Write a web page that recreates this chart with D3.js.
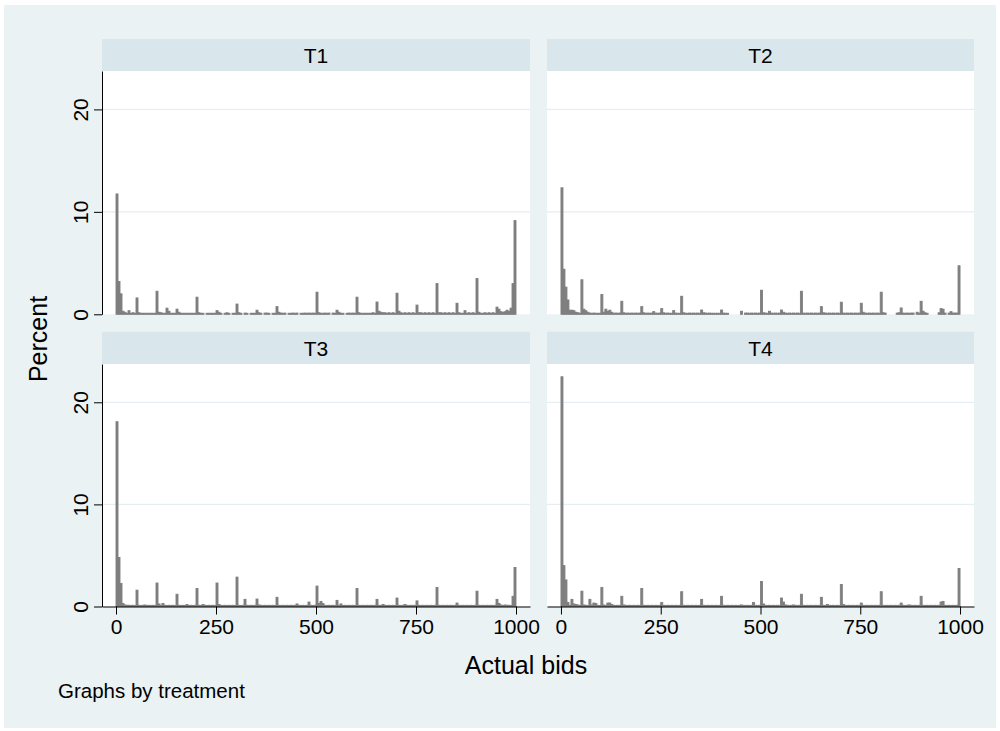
<!DOCTYPE html>
<html>
<head>
<meta charset="utf-8">
<script src="https://cdn.jsdelivr.net/npm/d3@7"></script>
<style>
  body { margin: 0; background: #ffffff; }
  text { font-family: "Liberation Sans", Arial, sans-serif; fill: #000; }
</style>
</head>
<body>
<div id="chart"></div>
<script>
// panels, ticks and bin width of the histogram
var treatments = ["T1", "T2", "T3", "T4"];
var x_ticks = [0, 250, 500, 750, 1000];
var y_ticks = [0, 10, 20];
var bin_width = 5;   // each value below is one bin of 5 bids, from 0 to 995

// percent per bin, one row = 100 bids
var pct_T1 = [
  11.75,3.2,2.0,0.3,0.2,0.1,0.35,0.1,0.15,0.1, 1.6,0.15,0.1,0.1,0.1,0.1,0.1,0.1,0.1,0.1,
  2.25,0.2,0.15,0.1,0.1,0.6,0.3,0.1,0.1,0.1, 0.5,0.2,0.1,0.1,0.1,0.1,0.1,0.1,0.1,0.1,
  1.67,0.15,0.1,0.1,0,0.1,0.1,0.1,0.1,0.1, 0.36,0.2,0.1,0,0.1,0.15,0.1,0,0.1,0.1,
  1.0,0.15,0.1,0,0.12,0.1,0,0.1,0.1,0.1, 0.4,0.15,0.1,0,0.12,0.12,0.1,0,0.1,0.1,
  0.75,0.2,0.12,0.1,0.12,0,0.1,0.1,0.12,0.1, 0.12,0,0.1,0.1,0.12,0.1,0.12,0.1,0.12,0.1,
  2.16,0.15,0.1,0.1,0.12,0.1,0.12,0,0.12,0.1, 0.4,0.2,0.1,0.1,0,0.1,0.12,0.1,0.12,0.1,
  1.67,0.15,0.1,0.1,0.1,0.1,0.1,0.1,0.15,0.1, 1.2,0.3,0.2,0.15,0.15,0.1,0.15,0.1,0.15,0.1,
  2.06,0.3,0.15,0.1,0.15,0.1,0.15,0.1,0.15,0.1, 0.9,0.15,0.15,0.1,0.15,0.1,0.15,0.1,0.15,0.1,
  3.0,0.15,0.15,0.1,0.15,0.1,0.15,0.1,0.15,0.1, 1.08,0.15,0.1,0.1,0.35,0.1,0.15,0.1,0.15,0.1,
  3.5,0.2,0.1,0.1,0.15,0.1,0.15,0.1,0.15,0.1, 0.7,0.5,0.25,0.2,0.25,0.4,0.3,0.6,3.0,9.15
];
var pct_T2 = [
  12.35,4.4,2.65,1.4,0.4,0.4,0.35,0.2,0.15,0.1, 3.37,0.5,0.35,0.2,0.12,0.1,0.12,0.1,0.1,0.1,
  1.93,0.2,0.5,0.3,0.4,0.2,0.1,0.12,0.1,0.12, 1.27,0.15,0.1,0.12,0.1,0.12,0.1,0.12,0.1,0.12,
  0.75,0.15,0.1,0.12,0.1,0.12,0.26,0.12,0.1,0.12, 0.56,0.15,0.1,0.12,0.1,0.1,0.36,0.12,0.1,0.1,
  1.76,0.15,0.1,0.1,0.12,0.1,0.12,0.1,0.12,0.1, 0.42,0.15,0.12,0.1,0.12,0.1,0.1,0.1,0.1,0.1,
  0.42,0.12,0.1,0.1,0,0,0,0,0,0, 0.3,0,0.12,0.12,0.1,0.12,0.1,0.12,0.1,0.12,
  2.35,0.15,0.12,0.1,0.3,0.12,0.1,0.12,0.1,0.12, 0.42,0.2,0.12,0.1,0.12,0.1,0.12,0.1,0.12,0.1,
  2.25,0.12,0.1,0.12,0.1,0.12,0.1,0.12,0.1,0.12, 0.75,0.15,0.12,0.1,0.12,0.1,0.12,0.1,0.12,0.1,
  1.18,0.12,0.1,0.12,0.1,0.12,0.1,0.12,0.1,0.12, 1.08,0.2,0.12,0.1,0.12,0.1,0.12,0.1,0.12,0.1,
  2.16,0.15,0.12,0,0,0,0,0,0.12,0.15, 0.62,0.12,0.1,0.12,0.1,0.12,0.12,0,0.2,0.12,
  1.27,0.3,0.15,0.1,0,0,0,0,0,0.15, 0.56,0.5,0.12,0,0.12,0.26,0.12,0.12,0.12,4.74
];
var pct_T3 = [
  18.1,4.8,2.26,0.3,0.15,0.12,0.12,0.1,0.12,0.1, 1.6,0.12,0.1,0.12,0.15,0.1,0.12,0.1,0.12,0.1,
  2.3,0.25,0.12,0.3,0.12,0.1,0.12,0.1,0.12,0.1, 1.2,0.12,0.1,0.12,0.1,0.2,0.1,0.12,0.1,0.12,
  1.77,0.12,0.1,0.2,0.12,0.1,0.12,0.1,0.12,0.1, 2.3,0.2,0.12,0.1,0.12,0.1,0.12,0.1,0.12,0.1,
  2.88,0.12,0.1,0.12,0.7,0.12,0.1,0.12,0.1,0.12, 0.73,0.15,0.12,0.1,0.12,0.1,0.12,0.1,0.12,0.1,
  0.9,0.12,0.1,0.12,0.1,0.12,0.1,0.12,0.1,0.12, 0.25,0.12,0.1,0.12,0.1,0.12,0.44,0.12,0.1,0.12,
  2.0,0.3,0.5,0.3,0.12,0.1,0.12,0.1,0.12,0.1, 0.6,0.12,0.25,0.1,0.12,0.1,0.12,0.1,0.12,0.1,
  1.77,0.12,0.1,0.12,0.1,0.12,0.1,0.12,0.1,0.12, 0.7,0.12,0.1,0.2,0.12,0.1,0.12,0.1,0.12,0.1,
  0.83,0.12,0.1,0.12,0.2,0.12,0.1,0.12,0.1,0.12, 0.55,0.12,0.1,0.12,0.1,0.12,0.1,0.12,0.1,0.12,
  1.87,0.12,0.1,0.12,0.1,0.12,0.1,0.12,0.1,0.12, 0.34,0.12,0.1,0.12,0.1,0.12,0.1,0.12,0.1,0.12,
  1.5,0.12,0.1,0.12,0.1,0.12,0.1,0.12,0.1,0.12, 0.7,0.3,0.15,0.1,0.15,0.12,0.12,0.1,1.0,3.82
];
var pct_T4 = [
  22.5,4.0,2.6,0.4,0.12,0.7,0.25,0.2,0.15,0.1, 1.5,0.15,0.12,0.1,0.7,0.15,0.34,0.3,0.12,0.1,
  1.87,0.15,0.1,0.34,0.34,0.2,0.12,0.1,0.12,0.1, 1.0,0.15,0.12,0.1,0.12,0.1,0.12,0.1,0.12,0.1,
  1.77,0.12,0.1,0.12,0.1,0.12,0.1,0.12,0.1,0.12, 0.4,0.12,0.1,0.12,0.1,0.12,0.1,0.12,0.1,0.12,
  1.45,0.12,0.1,0.12,0.1,0.12,0.1,0.12,0.1,0.12, 0.7,0.12,0.1,0.12,0.1,0.12,0.1,0.12,0.1,0.12,
  1.0,0.12,0.1,0.12,0.1,0.12,0.1,0.12,0.1,0.12, 0.15,0.12,0.1,0.12,0.1,0.12,0.4,0.12,0.1,0.12,
  2.45,0.25,0.12,0.1,0.12,0.1,0.12,0.1,0.12,0.1, 0.83,0.44,0.15,0.12,0.1,0.12,0.15,0.12,0.1,0.12,
  1.2,0.12,0.1,0.12,0.1,0.12,0.1,0.12,0.1,0.12, 0.9,0.12,0.1,0.2,0.12,0.1,0.12,0.1,0.12,0.1,
  2.16,0.2,0.12,0.1,0.12,0.1,0.12,0.1,0.12,0.1, 0.34,0.12,0.1,0.12,0.1,0.12,0.1,0.12,0.1,0.12,
  1.45,0.12,0.1,0.12,0.1,0.12,0.1,0.12,0.1,0.12, 0.34,0.12,0.1,0.12,0.15,0.12,0.1,0.12,0.1,0.12,
  1.0,0.12,0.1,0.12,0.1,0.12,0.1,0.12,0.1,0.12, 0.44,0.5,0.12,0.1,0.12,0.1,0.12,0.1,0.12,3.72
];
var panel_values = [pct_T1, pct_T2, pct_T3, pct_T4];

// layout of the 2x2 grid
var cols = [{x0: 102, x1: 530}, {x0: 547, x1: 974}];
var rows = [{top: 39, plotTop: 71, plotBottom: 314.3}, {top: 331.7, plotTop: 364, plotBottom: 606.5}];

var svg = d3.select("#chart")
  .append("svg")
    .attr("width", 1000)
    .attr("height", 731);

// graph background
svg.append("rect")
  .attr("x", 4).attr("y", 5)
  .attr("width", 992).attr("height", 723)
  .style("fill", "#EAF2F3");

treatments.forEach(function(name, i) {
  var c = cols[i % 2], r = rows[Math.floor(i / 2)];

  var x = d3.scaleLinear().domain([-35, 1035]).range([c.x0, c.x1]);
  var y = d3.scaleLinear().domain([0, 23.75]).range([r.plotBottom, r.plotTop]);

  var g = svg.append("g");

  // strip with the treatment name
  g.append("rect")
    .attr("x", c.x0).attr("y", r.top)
    .attr("width", c.x1 - c.x0).attr("height", r.plotTop - r.top)
    .style("fill", "#D9E6EB");
  g.append("text")
    .attr("x", (c.x0 + c.x1) / 2)
    .attr("y", r.top + 24)
    .attr("text-anchor", "middle")
    .attr("font-size", "21px")
    .text(name);

  // plot region
  g.append("rect")
    .attr("x", c.x0).attr("y", r.plotTop)
    .attr("width", c.x1 - c.x0).attr("height", r.plotBottom - r.plotTop)
    .style("fill", "#ffffff");

  // horizontal grid lines
  g.selectAll(".grid")
    .data(y_ticks.filter(function(d) { return d > 0; }))
    .enter()
    .append("line")
      .attr("x1", c.x0).attr("x2", c.x1)
      .attr("y1", function(d) { return y(d); })
      .attr("y2", function(d) { return y(d); })
      .style("stroke", "#E6EEF1")
      .style("stroke-width", 1.3);

  // histogram bars (outlined in the same grey, like Stata)
  g.selectAll(".bar")
    .data(panel_values[i])
    .enter()
    .append("rect")
      .attr("x", function(d, k) { return x(k * bin_width); })
      .attr("y", function(d) { return y(d); })
      .attr("width", function(d, k) { return x((k + 1) * bin_width) - x(k * bin_width); })
      .attr("height", function(d) { return r.plotBottom - y(d); })
      .style("fill", "#7f7f7f")
      .style("stroke", function(d) { return d > 0 ? "#7f7f7f" : "none"; })
      .style("stroke-width", 0.9);

  // y axis only on the left column
  if (i % 2 == 0) {
    var ya = g.append("g")
      .attr("transform", "translate(" + c.x0 + ",0)")
      .call(d3.axisLeft(y).tickValues(y_ticks).tickSize(8).tickSizeOuter(0));
    ya.select(".domain").style("stroke", "#000");
    ya.selectAll(".tick line").style("stroke", "#000");
    ya.selectAll(".tick text")
      .attr("x", 0).attr("y", 0).attr("dy", 0)
      .attr("transform", "translate(-14,0) rotate(-90)")
      .attr("text-anchor", "middle")
      .attr("font-size", "21px")
      .style("font-family", "'Liberation Sans', Arial, sans-serif")
      .style("fill", "#000");
  }

  // x axis only on the bottom row
  if (i >= 2) {
    var xa = g.append("g")
      .attr("transform", "translate(0," + r.plotBottom + ")")
      .call(d3.axisBottom(x).tickValues(x_ticks).tickFormat(d3.format("d")).tickSize(8).tickSizeOuter(0));
    xa.select(".domain").style("stroke", "#000");
    xa.selectAll(".tick line").style("stroke", "#000");
    xa.selectAll(".tick text")
      .attr("y", 13)
      .attr("font-size", "21px")
      .style("font-family", "'Liberation Sans', Arial, sans-serif")
      .style("fill", "#000");
  }
});

// axis titles and note
svg.append("text")
  .attr("transform", "translate(47,339) rotate(-90)")
  .attr("text-anchor", "middle")
  .attr("font-size", "25px")
  .text("Percent");

svg.append("text")
  .attr("x", 526)
  .attr("y", 674)
  .attr("text-anchor", "middle")
  .attr("font-size", "25px")
  .text("Actual bids");

svg.append("text")
  .attr("x", 58)
  .attr("y", 698)
  .attr("font-size", "20.5px")
  .text("Graphs by treatment");
</script>
</body>
</html>
